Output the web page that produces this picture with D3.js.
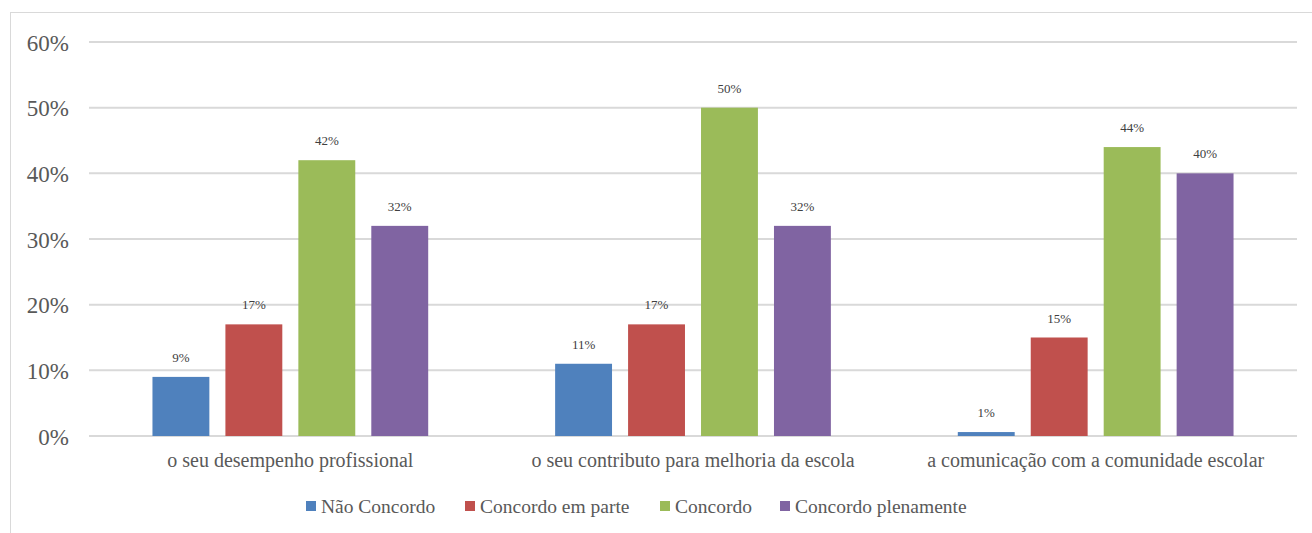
<!DOCTYPE html>
<html><head><meta charset="utf-8">
<script src="https://cdn.jsdelivr.net/npm/d3@7"></script>
<style>body{margin:0;background:#fff;}svg{display:block;}</style>
</head><body>
<svg id="c" width="1312" height="533"></svg>
<script>
const categories = ["o seu desempenho profissional", "o seu contributo para melhoria da escola", "a comunicação com a comunidade escolar"];
const seriesNames = ["Não Concordo", "Concordo em parte", "Concordo", "Concordo plenamente"];
const naoConcordo = [9, 11, 0.6];
const concordoEmParte = [17, 17, 15];
const concordo = [42, 50, 44];
const concordoPlenamente = [32, 32, 40];
const colors = ["#4f81bd", "#c0504d", "#9bbb59", "#8064a2"];
const yTicks = [0, 10, 20, 30, 40, 50, 60];

const seriesValues = [naoConcordo, concordoEmParte, concordo, concordoPlenamente];
const svg = d3.select("#c");
const font = "'Liberation Serif', 'DejaVu Serif', serif";
const textColor = "#595959";

// frame
svg.append("rect").attr("x", 10.5).attr("y", 12.5).attr("width", 1320).attr("height", 540)
  .attr("fill", "none").attr("stroke", "#d9d9d9").attr("stroke-width", 1);

const m = {left: 89, right: 1297, top: 42, bottom: 436};
const x0 = d3.scaleBand().domain(categories).range([m.left, m.right]).paddingInner(0).paddingOuter(0);
const y = d3.scaleLinear().domain([0, 60]).range([m.bottom, m.top]);
const x1 = d3.scaleBand().domain(seriesNames).range([0, x0.bandwidth()]).paddingInner(0.22).paddingOuter(0.87);

// gridlines
svg.append("g").selectAll("line").data(yTicks).join("line")
  .attr("x1", m.left).attr("x2", m.right)
  .attr("y1", d => y(d)).attr("y2", d => y(d))
  .attr("stroke", "#d9d9d9").attr("stroke-width", 2);

// y axis labels
const yAxis = d3.axisLeft(y).tickValues(yTicks).tickFormat(d => d + "%").tickSize(0).tickPadding(0);
const ya = svg.append("g").attr("transform", `translate(${m.left - 20},0)`).call(yAxis);
ya.select(".domain").remove();
ya.selectAll("text").attr("font-family", font).attr("font-size", 23).attr("fill", textColor).attr("dy", "0.35em");

// bars
const groups = svg.append("g").selectAll("g").data(categories).join("g")
  .attr("transform", d => `translate(${x0(d)},0)`);
groups.each(function(cat, ci) {
  const g = d3.select(this);
  const data = seriesNames.map((s, si) => ({s, v: seriesValues[si][ci], c: colors[si]}));
  g.selectAll("rect").data(data).join("rect")
    .attr("x", d => x1(d.s)).attr("width", x1.bandwidth())
    .attr("y", d => y(d.v)).attr("height", d => y(0) - y(d.v))
    .attr("fill", d => d.c);
  g.selectAll("text").data(data).join("text")
    .attr("x", d => x1(d.s) + x1.bandwidth() / 2)
    .attr("y", d => y(d.v) - 15)
    .attr("text-anchor", "middle")
    .attr("font-family", font).attr("font-size", 13).attr("fill", "#404040")
    .text(d => Math.round(d.v) + "%");
});

// x axis labels
const xAxis = d3.axisBottom(x0).tickSize(0).tickPadding(0);
const xa = svg.append("g").attr("transform", `translate(0,${m.bottom + 17})`).call(xAxis);
xa.select(".domain").remove();
xa.selectAll("text").attr("font-family", font).attr("font-size", 20).attr("fill", textColor).attr("dy", "0.71em");

// legend
const legendX = [306, 465, 660, 780];
const lg = svg.append("g").selectAll("g").data(seriesNames).join("g")
  .attr("transform", (d, i) => `translate(${legendX[i]},506)`);
lg.append("rect").attr("x", 0).attr("y", -5).attr("width", 10).attr("height", 10).attr("fill", (d, i) => colors[i]);
lg.append("text").attr("x", 15).attr("y", 0).attr("dy", "0.35em")
  .attr("font-family", font).attr("font-size", 19.5).attr("fill", textColor).text(d => d);
</script>
</body></html>
